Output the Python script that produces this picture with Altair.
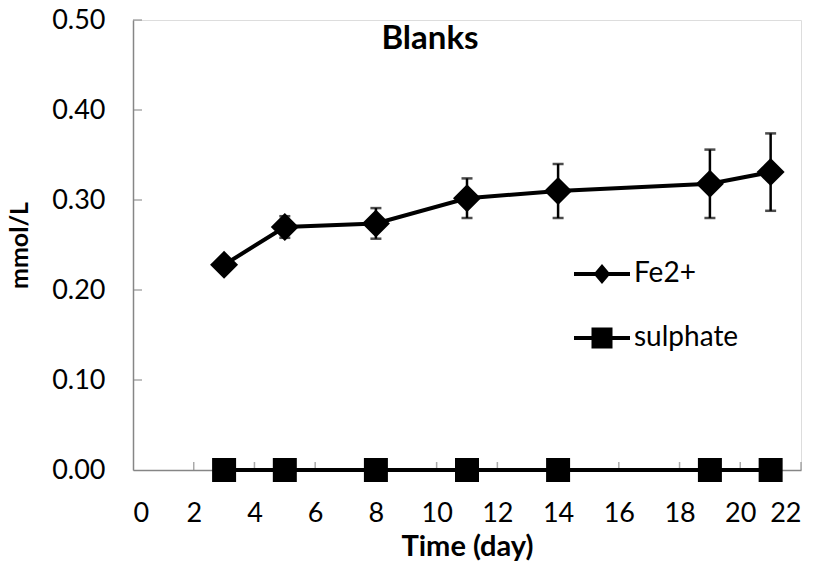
import altair as alt
import pandas as pd

# Sampling days and measured concentrations (mmol/L)
days = [3, 5, 8, 11, 14, 19, 21]
fe2 = [0.228, 0.270, 0.274, 0.302, 0.310, 0.318, 0.331]
fe2_sd = [0.004, 0.012, 0.017, 0.022, 0.030, 0.038, 0.043]
sulphate = [0.0, 0.0, 0.0, 0.0, 0.0, 0.0, 0.0]
series_names = ["Fe2+", "sulphate"]

x_tick_values = [0, 2, 4, 6, 8, 10, 12, 14, 16, 18, 20, 22]
y_tick_values = [0.0, 0.1, 0.2, 0.3, 0.4, 0.5]

FONT = "Lato"
AXIS_GRAY = "#868686"

fe_df = pd.DataFrame({"day": days, "value": fe2, "sd": fe2_sd, "series": "Fe2+"})
fe_df["lo"] = fe_df["value"] - fe_df["sd"]
fe_df["hi"] = fe_df["value"] + fe_df["sd"]
so_df = pd.DataFrame({"day": days, "value": sulphate, "series": "sulphate"})
lines_df = pd.concat([fe_df[["day", "value", "series"]], so_df], ignore_index=True)

xticks_df = pd.DataFrame({"t": [v for v in x_tick_values if v > 0], "zero": 0.0})
yticks_df = pd.DataFrame({"t": [v for v in y_tick_values if v > 0], "zero": 0.0})

x_scale = alt.Scale(domain=[0, 22], nice=False, zero=False)
y_scale = alt.Scale(domain=[0, 0.5], nice=False)

x_axis = alt.Axis(
    values=x_tick_values, format="d", title="Time (day)", ticks=False, tickSize=0,
    grid=False, domainColor=AXIS_GRAY, domainWidth=1.5,
    labelFont=FONT, labelFontSize=27, labelColor="black", labelPadding=30,
    titleFont=FONT, titleFontSize=29, titleFontWeight="bold", titleColor="black",
    titlePadding=6,
)
y_axis = alt.Axis(
    values=y_tick_values, format=".2f", title="mmol/L", ticks=False, tickSize=0,
    grid=False, domainColor=AXIS_GRAY, domainWidth=1.5,
    labelFont=FONT, labelFontSize=27, labelColor="black", labelPadding=28,
    titleFont=FONT, titleFontSize=25, titleFontWeight="bold", titleColor="black",
    titlePadding=19,
)

X = alt.X("day:Q", scale=x_scale, axis=x_axis)
Y = alt.Y("value:Q", scale=y_scale, axis=y_axis)

# Inward-pointing tick marks along both axes
x_ticks = alt.Chart(xticks_df).mark_tick(
    orient="vertical", size=8, thickness=1.5, yOffset=-4, color=AXIS_GRAY
).encode(x=alt.X("t:Q", scale=x_scale), y=alt.Y("zero:Q", scale=y_scale))
y_ticks = alt.Chart(yticks_df).mark_tick(
    orient="horizontal", size=9, thickness=1.5, xOffset=4.5, color=AXIS_GRAY
).encode(x=alt.X("zero:Q", scale=x_scale), y=alt.Y("t:Q", scale=y_scale))

# Error bars for Fe2+
err_rule = alt.Chart(fe_df).mark_rule(strokeWidth=2.5, color="black").encode(
    x=alt.X("day:Q", scale=x_scale), y=alt.Y("lo:Q", scale=y_scale), y2="hi:Q"
)
err_cap_lo = alt.Chart(fe_df).mark_tick(
    orient="horizontal", size=11, thickness=2.5, color="black"
).encode(x=alt.X("day:Q", scale=x_scale), y=alt.Y("lo:Q", scale=y_scale))
err_cap_hi = alt.Chart(fe_df).mark_tick(
    orient="horizontal", size=11, thickness=2.5, color="black"
).encode(x=alt.X("day:Q", scale=x_scale), y=alt.Y("hi:Q", scale=y_scale))

lines = alt.Chart(lines_df).mark_line(strokeWidth=4, color="black").encode(
    x=X, y=Y, detail="series:N"
)

fe_points = alt.Chart(fe_df).mark_point(
    shape="diamond", filled=True, size=784, color="black", opacity=1
).encode(x=X, y=Y)
so_points = alt.Chart(so_df).mark_point(
    shape="square", filled=True, size=576, color="black", opacity=1
).encode(x=X, y=Y)

# Legend keys: a short bar with the series marker on it (filled outlines)
legend_paths = [
    "M-2,-0.14H2V0.14H-2ZM-0.6,0L0,-0.71L0.6,0L0,0.71Z",
    "M-2,-0.14H2V0.14H-2ZM-0.75,-0.75H0.75V0.75H-0.75Z",
]
legend = alt.Legend(
    title=None, orient="none", legendX=455, legendY=240, direction="vertical",
    padding=0, rowPadding=36, labelFont=FONT, labelFontSize=28, labelColor="black",
    labelOffset=18, symbolSize=784, symbolStrokeWidth=0,
    symbolFillColor="black", symbolOpacity=1,
)
legend_keys = alt.Chart(lines_df).transform_filter("datum.day < 0").mark_point(
    filled=True, fill="black", size=784, opacity=1
).encode(
    x=X, y=Y,
    shape=alt.Shape(
        "series:N",
        scale=alt.Scale(domain=series_names, range=legend_paths),
        legend=legend,
    ),
)

chart = alt.layer(
    x_ticks, y_ticks, err_rule, err_cap_lo, err_cap_hi, lines, fe_points, so_points,
    legend_keys,
).properties(
    width=668,
    height=450,
    title=alt.TitleParams(
        "Blanks", font=FONT, fontSize=33, fontWeight="bold", color="black",
        anchor="middle", dx=-37, dy=54,
    ),
    padding={"left": 133, "top": 20, "right": 19, "bottom": 97},
    autosize=alt.AutoSizeParams(type="none"),
).configure_view(stroke=None).configure(background="white")

chart.save("out.html", embed_options={"renderer": "svg", "actions": False})
